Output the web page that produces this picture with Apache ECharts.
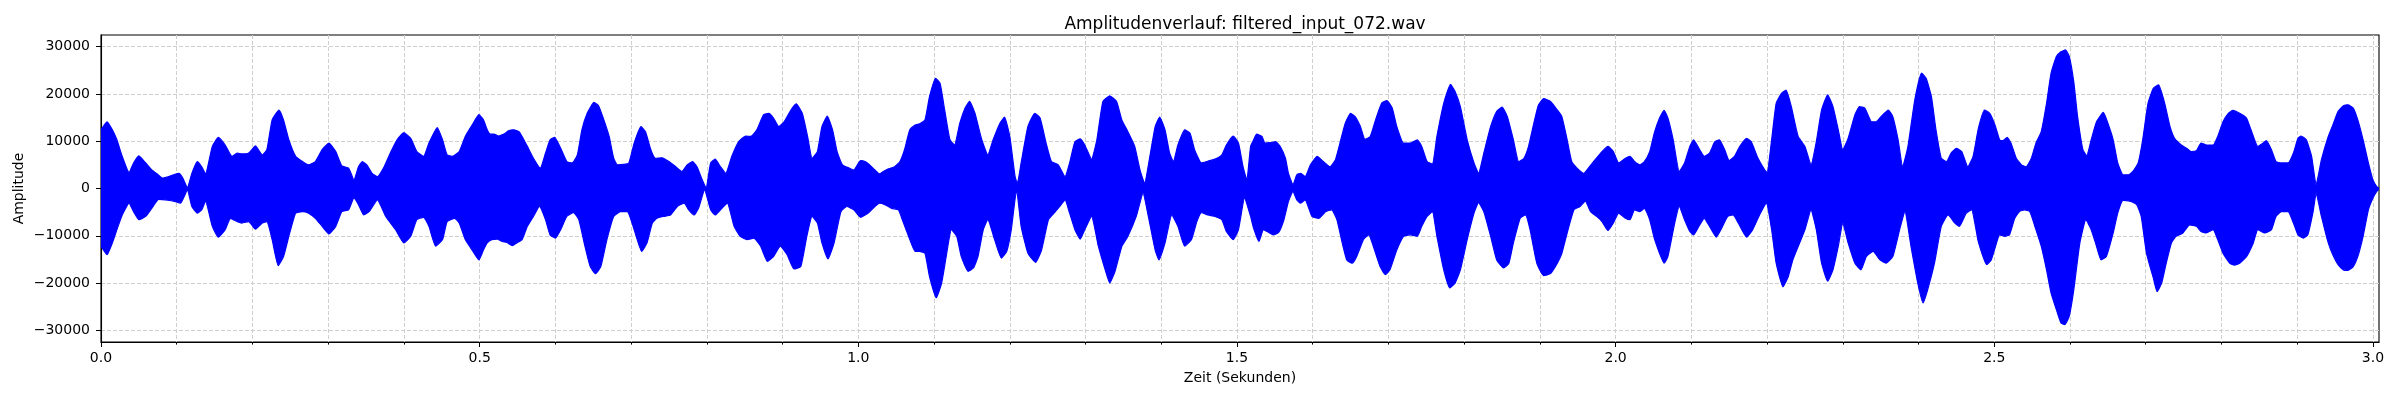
<!DOCTYPE html>
<html><head><meta charset="utf-8">
<script src="https://cdn.jsdelivr.net/npm/echarts@6/dist/echarts.min.js"></script>
<style>html,body{margin:0;padding:0;background:#fff}#c{width:2400px;height:400px}</style>
</head><body><div id="c"></div>
<script>
// Upper envelope of the waveform (seconds, amplitude)
const upperTime = [0.000,0.008,0.015,0.021,0.028,0.037,0.043,0.050,0.059,0.067,0.074,0.081,0.087,0.096,0.103,0.108,0.114,0.120,0.127,0.133,0.138,0.147,0.155,0.164,0.173,0.180,0.186,0.195,0.204,0.213,0.219,0.226,0.235,0.241,0.248,0.257,0.266,0.274,0.283,0.292,0.301,0.310,0.318,0.327,0.334,0.340,0.345,0.351,0.358,0.365,0.373,0.382,0.391,0.400,0.409,0.417,0.426,0.433,0.444,0.451,0.457,0.464,0.473,0.481,0.490,0.499,
0.505,0.510,0.514,0.519,0.525,0.532,0.538,0.545,0.552,0.556,0.563,0.571,0.580,0.587,0.593,0.599,0.607,0.615,0.622,0.629,0.635,0.642,0.651,0.657,0.664,0.671,0.677,0.682,0.690,0.697,0.704,0.713,0.719,0.726,0.732,0.741,0.750,0.759,0.767,0.774,0.781,0.787,0.794,0.799,0.805,0.811,0.818,0.825,0.833,0.842,0.851,0.858,0.866,0.875,0.882,0.888,0.895,0.902,0.911,0.918,0.926,0.933,0.939,0.946,0.952,0.959,0.966,0.972,0.979,0.988,0.994,1.003,
1.009,1.015,1.022,1.028,1.033,1.039,1.048,1.055,1.061,1.068,1.075,1.081,1.088,1.094,1.102,1.108,1.114,1.121,1.127,1.134,1.141,1.147,1.154,1.163,1.171,1.178,1.187,1.193,1.200,1.207,1.210,1.215,1.224,1.233,1.240,1.248,1.255,1.264,1.273,1.279,1.286,1.293,1.299,1.308,1.315,1.323,1.332,1.341,1.348,1.356,1.365,1.372,1.378,1.385,1.392,1.398,1.405,1.411,1.416,1.422,1.431,1.438,1.444,1.453,1.462,1.471,1.480,1.486,1.495,1.502,1.508,1.513,
1.518,1.522,1.526,1.533,1.537,1.544,1.551,1.557,1.564,1.568,1.574,1.579,1.584,1.590,1.597,1.606,1.614,1.623,1.630,1.636,1.643,1.650,1.656,1.663,1.669,1.676,1.683,1.691,1.698,1.705,1.711,1.720,1.729,1.738,1.744,1.751,1.758,1.764,1.773,1.782,1.788,1.795,1.804,1.813,1.819,1.826,1.835,1.843,1.850,1.857,1.865,1.872,1.879,1.885,1.892,1.898,1.905,1.914,1.923,1.929,1.936,1.942,1.949,1.958,1.964,1.973,1.982,1.990,1.997,2.004,2.013,
2.019,2.025,2.032,2.038,2.045,2.051,2.058,2.064,2.069,2.076,2.084,2.091,2.098,2.103,2.111,2.117,2.124,2.131,2.137,2.144,2.150,2.157,2.164,2.173,2.179,2.188,2.197,2.200,2.206,2.212,2.219,2.225,2.232,2.241,2.250,2.258,2.265,2.272,2.280,2.287,2.294,2.300,2.307,2.316,2.322,2.329,2.338,2.344,2.351,2.360,2.366,2.373,2.379,2.386,2.395,2.404,2.410,2.417,2.423,2.430,2.437,2.443,2.450,2.457,2.465,2.472,2.479,2.487,2.494,2.501,
2.507,2.511,2.517,2.522,2.529,2.536,2.542,2.549,2.555,2.562,2.569,2.575,2.582,2.588,2.594,2.599,2.605,2.610,2.617,2.622,2.628,2.635,2.644,2.650,2.657,2.663,2.670,2.677,2.683,2.690,2.696,2.703,2.710,2.717,2.725,2.732,2.738,2.747,2.754,2.760,2.767,2.773,2.780,2.789,2.795,2.802,2.809,2.815,2.824,2.833,2.839,2.848,2.855,2.859,2.866,2.872,2.879,2.888,2.895,2.901,2.905,2.912,2.919,2.925,2.932,2.941,2.947,2.954,2.961,2.967,2.974,2.980,2.987,2.994,3.000,3.005,3.008];
const upperAmp = [12400,14100,12400,10300,6800,3400,5400,6900,5400,3900,3100,2200,2400,2900,3200,2200,200,3200,5700,4600,3100,8900,10800,9200,6800,7500,7300,7500,9000,7100,8200,14500,16600,14500,10300,6800,5700,5000,5700,8200,9600,7800,4800,4300,1800,4600,5700,5000,3200,2500,4300,7500,10300,11800,10600,7800,6800,9600,12900,10300,7100,6800,7800,11000,13400,15600,
14500,12400,11500,11500,11100,11500,12200,12400,12000,11000,8900,6400,4300,7500,10300,10800,8500,5700,5400,7100,12400,15900,18200,17500,14500,11000,6400,5000,5100,5400,9600,13100,12000,8200,6400,6500,5700,4600,3600,5000,5700,4600,1800,200,5400,6200,4600,3200,6800,9900,11100,11000,12400,15600,15900,14900,13100,14100,16600,17900,15900,11000,6400,7800,13100,15300,12400,7800,5000,4300,3900,5900,
5700,5000,3900,3100,3600,4100,4600,5700,8200,12400,13400,13700,14500,19400,23300,22200,16600,10300,9200,13800,17000,18400,15900,10300,7100,10300,13800,15100,11000,2500,1100,5400,13100,15900,14900,9600,5700,5000,2500,5400,9900,10500,9200,6200,10300,18400,19600,18400,14500,12000,8900,3900,1100,6800,13100,15100,12400,7500,5700,9200,12400,11700,8200,5400,5800,6200,7100,9200,11100,9600,4600,1800,
8900,10300,11500,11000,9600,9700,9900,8900,6400,3200,800,2900,3200,2500,5000,6800,5700,4600,6100,9600,13800,15900,15200,13100,10400,11000,14500,18000,18600,17000,13100,9600,9600,10300,8900,5700,5200,11000,18000,22000,20500,17300,10300,5400,3200,7500,13100,16300,17200,15200,10300,5700,6400,8900,13800,17600,19000,18400,16600,15200,10300,5700,4300,3200,4300,6100,7800,8900,7800,5400,6400,
6800,5700,5000,5700,7800,11700,14900,16500,14900,10300,3600,5400,8900,10300,8200,6800,7500,9900,10300,8200,5900,6800,8900,10600,9900,6400,3900,3400,10300,18000,20100,20800,17300,11000,8900,5000,9900,16600,19800,17300,12400,8200,10600,15600,17300,17000,14100,14100,15300,16600,15200,10300,4600,8900,18700,24400,23300,19400,12400,6400,5700,7500,8500,7800,4600,6800,12700,16600,15900,13400,
10300,10100,10800,9600,6400,5000,4600,6400,9600,12000,18000,24400,27900,28900,29300,27900,22500,15200,8200,6900,10300,14100,16100,13800,10300,5400,2900,2900,3600,5400,10300,18000,21200,21900,18000,13100,10600,9200,8500,7800,8000,9600,9200,9200,11000,14100,15900,16500,15900,14900,12400,8900,9600,10100,8200,5700,5400,5400,7500,10600,11100,10300,6800,800,6100,11000,13400,16300,17500,17700,17000,14500,10300,5400,1800,400,0];

// Lower envelope of the waveform (seconds, amplitude)
const lowerTime = [0.000,0.008,0.015,0.021,0.028,0.037,0.043,0.050,0.059,0.067,0.076,0.085,0.096,0.105,0.114,0.120,0.127,0.133,0.138,0.147,0.155,0.164,0.171,0.180,0.186,0.195,0.204,0.213,0.219,0.226,0.234,0.241,0.248,0.257,0.266,0.274,0.283,0.292,0.301,0.310,0.318,0.327,0.334,0.340,0.347,0.354,0.365,0.376,0.389,0.400,0.409,0.417,0.426,0.433,0.442,0.451,0.457,0.467,0.473,0.481,0.490,0.499,
0.505,0.510,0.516,0.523,0.530,0.536,0.543,0.549,0.556,0.563,0.571,0.579,0.587,0.593,0.600,0.607,0.615,0.624,0.631,0.638,0.646,0.653,0.660,0.668,0.677,0.686,0.695,0.704,0.714,0.721,0.728,0.734,0.743,0.752,0.761,0.770,0.776,0.783,0.789,0.797,0.805,0.811,0.818,0.827,0.836,0.844,0.853,0.862,0.871,0.880,0.888,0.897,0.906,0.915,0.924,0.932,0.939,0.946,0.952,0.960,0.968,0.977,0.985,0.994,1.003,
1.009,1.015,1.022,1.028,1.035,1.044,1.053,1.059,1.068,1.075,1.081,1.088,1.094,1.103,1.110,1.116,1.123,1.130,1.136,1.145,1.152,1.158,1.165,1.171,1.180,1.189,1.196,1.202,1.209,1.215,1.224,1.234,1.242,1.251,1.259,1.266,1.273,1.279,1.286,1.293,1.299,1.308,1.317,1.326,1.332,1.339,1.348,1.356,1.367,1.376,1.383,1.392,1.397,1.405,1.414,1.422,1.431,1.440,1.447,1.453,1.462,1.471,1.480,1.486,1.495,1.502,1.510,
1.518,1.522,1.529,1.535,1.542,1.548,1.555,1.562,1.568,1.574,1.579,1.584,1.590,1.599,1.608,1.617,1.625,1.632,1.639,1.645,1.652,1.658,1.667,1.674,1.680,1.689,1.696,1.702,1.711,1.720,1.729,1.738,1.744,1.751,1.758,1.764,1.773,1.781,1.788,1.795,1.804,1.813,1.819,1.826,1.835,1.843,1.852,1.859,1.865,1.874,1.881,1.887,1.896,1.905,1.914,1.923,1.929,1.936,1.945,1.953,1.960,1.967,1.975,1.982,1.990,1.997,2.004,2.013,2.019,
2.025,2.032,2.038,2.045,2.051,2.058,2.064,2.069,2.078,2.084,2.091,2.098,2.103,2.111,2.117,2.124,2.133,2.139,2.148,2.155,2.162,2.173,2.181,2.190,2.199,2.206,2.212,2.221,2.228,2.234,2.243,2.250,2.258,2.265,2.272,2.280,2.287,2.294,2.300,2.307,2.316,2.324,2.331,2.340,2.349,2.357,2.366,2.375,2.382,2.390,2.399,2.406,2.412,2.421,2.430,2.439,2.448,2.454,2.463,2.470,2.479,2.490,2.496,2.503,
2.507,2.514,2.520,2.527,2.533,2.540,2.547,2.555,2.562,2.569,2.575,2.582,2.588,2.593,2.599,2.605,2.613,2.621,2.628,2.635,2.641,2.648,2.657,2.663,2.670,2.679,2.688,2.694,2.701,2.710,2.715,2.721,2.727,2.734,2.740,2.749,2.758,2.767,2.773,2.780,2.789,2.795,2.802,2.811,2.817,2.824,2.833,2.842,2.848,2.857,2.866,2.872,2.879,2.888,2.895,2.901,2.908,2.914,2.921,2.925,2.932,2.941,2.947,2.954,2.961,2.967,2.974,2.980,2.987,2.994,3.000,3.005,3.008];
const lowerAmp = [-12200,-14000,-11500,-8700,-5600,-3100,-4900,-6600,-5900,-4200,-2300,-2400,-2700,-3100,-300,-3800,-5200,-4500,-2700,-8000,-10300,-8700,-6300,-7000,-7300,-7000,-8600,-7300,-7000,-10800,-16300,-14400,-10100,-5200,-4900,-5200,-6300,-8000,-9600,-8000,-4900,-4500,-2000,-3400,-5600,-4900,-2400,-5900,-8700,-11500,-10100,-6600,-6100,-8000,-12200,-10800,-7000,-6300,-7300,-10800,-13000,-15100,
-13000,-11500,-10800,-10700,-11200,-11400,-12100,-11500,-10800,-8000,-5900,-3800,-6600,-9800,-10500,-8700,-5900,-5100,-6600,-11500,-16500,-18000,-16500,-10800,-5900,-4900,-4900,-8700,-13300,-11500,-7300,-6300,-5900,-5600,-3800,-3100,-4500,-5600,-4200,-300,-4500,-5600,-4500,-3100,-8000,-10100,-10800,-10500,-12200,-15400,-14400,-12200,-14000,-17000,-16500,-10100,-5900,-7300,-11500,-14900,-11500,-4900,-3800,-4500,-6100,
-5600,-4900,-3800,-3100,-3400,-4200,-4500,-7000,-10800,-13300,-13300,-13700,-18600,-23100,-20000,-14400,-8700,-10100,-14400,-17500,-16800,-14400,-8700,-6600,-10800,-14700,-13300,-8700,-300,-8000,-13700,-15600,-13000,-6600,-5100,-3800,-2400,-5200,-8700,-10700,-8700,-5900,-12200,-17200,-20000,-17500,-12200,-10100,-5900,-1000,-5900,-13000,-15100,-11500,-5600,-8000,-12200,-10800,-7000,-5100,-5600,-5900,-6600,-9100,-10800,-8700,-2000,
-5900,-8400,-11200,-8700,-9300,-9800,-9300,-6600,-2700,-600,-2400,-3100,-2400,-5900,-6300,-4900,-4500,-6600,-11500,-15100,-15800,-14400,-10800,-9800,-12200,-16500,-18200,-17200,-13000,-10100,-9800,-10100,-8000,-5900,-4900,-10100,-17200,-21000,-20000,-17200,-10800,-5200,-3000,-4900,-10100,-15100,-16800,-15800,-11500,-6300,-5600,-8700,-15800,-18400,-18000,-15800,-13700,-9400,-4500,-3800,-2700,-4900,-5900,-7000,-8900,-7300,-5200,-6300,-6600,
-4500,-4900,-4200,-6600,-10500,-13700,-15800,-14400,-7300,-3800,-6600,-9100,-9800,-7700,-6300,-8000,-10300,-8700,-5900,-5600,-7300,-10300,-8700,-5600,-3100,-8700,-15800,-20800,-18600,-15100,-11500,-8700,-4500,-8700,-15800,-19600,-17200,-12200,-7300,-11500,-15800,-17200,-14400,-13300,-15100,-15800,-14400,-8700,-4900,-12200,-20000,-24200,-21400,-15800,-8000,-5600,-7300,-8000,-5200,-4500,-11300,-16100,-15100,-11500,
-9800,-10100,-9800,-6300,-4900,-4500,-4900,-8700,-12200,-17200,-22100,-25600,-28400,-28800,-27000,-21400,-11500,-6600,-8700,-12200,-15100,-14400,-9400,-5200,-2500,-2700,-3400,-5900,-13700,-18900,-21800,-20000,-15800,-11500,-10100,-9400,-7700,-8000,-9100,-9400,-8700,-10800,-13700,-15800,-16200,-15800,-14400,-11500,-8700,-9400,-8700,-5900,-4900,-4900,-7300,-9800,-10500,-9800,-4900,-1000,-5900,-11500,-14000,-16100,-17200,-17300,-16500,-14400,-10100,-4500,-2000,-600,-100];

// Axis ticks and labels
const xMajorTicks = [0,0.5,1.0,1.5,2.0,2.5,3.0];
const xMinorTicks = [0.1,0.2,0.3,0.4,0.6,0.7,0.8,0.9,1.1,1.2,1.3,1.4,1.6,1.7,1.8,1.9,2.1,2.2,2.3,2.4,2.6,2.7,2.8,2.9];
const xLabelValues = [0,0.5,1.0,1.5,2.0,2.5,3.0];
const yTickValues = [-30000,-20000,-10000,0,10000,20000,30000];

const titleText = 'Amplitudenverlauf: filtered_input_072.wav';
const xName = 'Zeit (Sekunden)';
const yName = 'Amplitude';

const zip = (a, b) => a.map((v, i) => [v, b[i]]);
const FONT = 'DejaVu Sans';
const BLUE = '#0000ff';
const gridLine = { show: true, lineStyle: { color: '#cfcfcf', width: 1, type: [4, 2] } };

const chart = echarts.init(document.getElementById('c'), null, { renderer: 'canvas' });
chart.setOption({
  animation: false,
  backgroundColor: '#ffffff',
  title: {
    text: titleText, left: 1240, top: 11, textAlign: 'center',
    textStyle: { fontFamily: FONT, fontSize: 17, fontWeight: 'normal', color: '#000' }
  },
  grid: { left: 101, right: 21, top: 35, bottom: 58, show: true, borderColor: '#000', borderWidth: 1.1, backgroundColor: 'transparent' },
  xAxis: [{
    type: 'value', min: 0, max: 3.008,
    name: xName, nameLocation: 'middle', nameGap: 29, nameMoveOverlap: false,
    nameTextStyle: { fontFamily: FONT, fontSize: 14, color: '#000' },
    axisLine: { show: true, onZero: false, lineStyle: { color: '#000', width: 1.1 } },
    axisTick: { show: true, length: 5, customValues: xMajorTicks, lineStyle: { color: '#000', width: 1 } },
    axisLabel: { customValues: xLabelValues, margin: 9, fontFamily: FONT, fontSize: 14, color: '#000', formatter: v => v.toFixed(1) },
    splitLine: gridLine
  }, {
    type: 'value', min: 0, max: 3.008, position: 'bottom',
    axisLine: { show: false, onZero: false },
    axisTick: { show: true, length: 2.6, customValues: xMinorTicks, lineStyle: { color: '#000', width: 1 } },
    axisLabel: { show: false },
    splitLine: gridLine
  }],
  yAxis: {
    type: 'value', min: -32450, max: 32450,
    name: yName, nameLocation: 'middle', nameGap: 75, nameMoveOverlap: false,
    nameTextStyle: { fontFamily: FONT, fontSize: 14, color: '#000' },
    axisLine: { show: true, onZero: false, lineStyle: { color: '#000', width: 1.1 } },
    axisTick: { show: true, length: 5, customValues: yTickValues, lineStyle: { color: '#000', width: 1 } },
    axisLabel: { customValues: yTickValues, margin: 11, fontFamily: FONT, fontSize: 14, color: '#000', formatter: v => String(v).replace('-', '\u2212') },
    splitLine: gridLine
  },
  series: [
    { type: 'line', xAxisIndex: 0, data: zip(upperTime, upperAmp), symbol: 'none', smooth: 0.15,
      lineStyle: { color: BLUE, width: 1.2 }, areaStyle: { color: BLUE, opacity: 1, origin: 0 }, z: 3,
      markLine: { silent: true, symbol: 'none', label: { show: false }, lineStyle: { color: BLUE, width: 3, type: 'solid' }, data: [{ yAxis: 0 }] } },
    { type: 'line', xAxisIndex: 0, data: zip(lowerTime, lowerAmp), symbol: 'none', smooth: 0.15,
      lineStyle: { color: BLUE, width: 1.2 }, areaStyle: { color: BLUE, opacity: 1, origin: 0 }, z: 3 }
  ]
});
</script>
</body></html>
